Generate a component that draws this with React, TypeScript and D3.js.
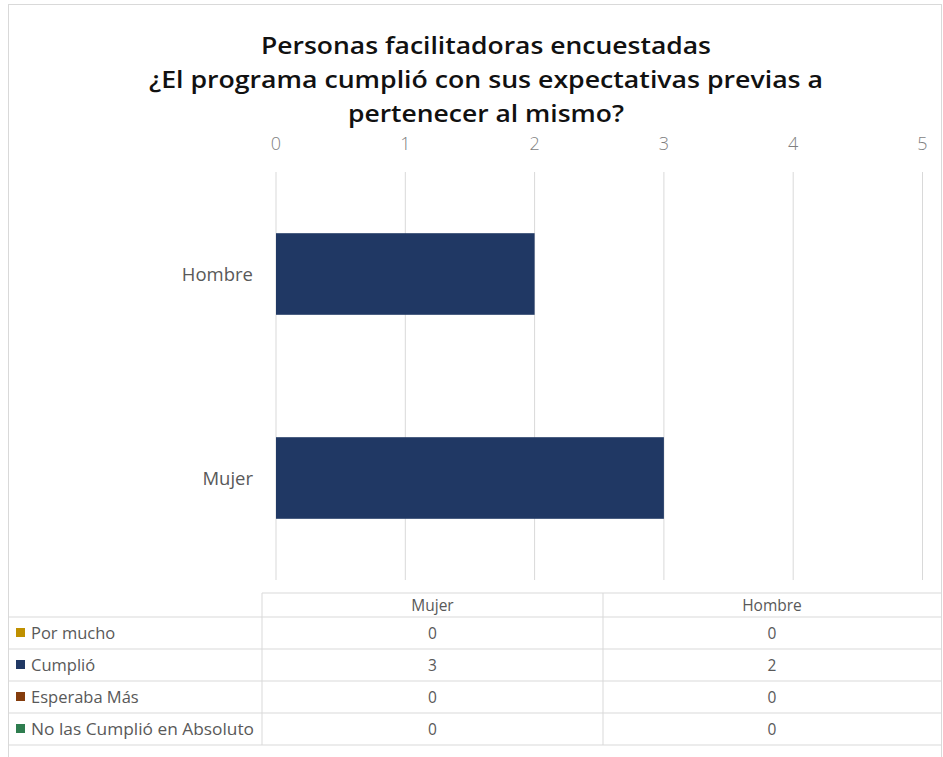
import React from "react";
import * as d3 from "d3";

const categories = ["Mujer", "Hombre"];
const seriesNames = ["Por mucho", "Cumplió", "Esperaba Más", "No las Cumplió en Absoluto"];
const seriesColors = ["#bf9000", "#203864", "#843c0c", "#2e7d4f"];
const porMucho = [0, 0];
const cumplio = [3, 2];
const esperabaMas = [0, 0];
const noCumplio = [0, 0];
const xTicks = [0, 1, 2, 3, 4, 5];
const titleLines = [
  "Personas facilitadoras encuestadas",
  "¿El programa cumplió con sus expectativas previas a",
  "pertenecer al mismo?",
];
const titleWidths = [450, 674, 276];

const W = 943;
const H = 757;
const FONT = "'Open Sans', 'Noto Sans', sans-serif";

export default function App() {
  const seriesValues = [porMucho, cumplio, esperabaMas, noCumplio];
  const rows = categories.map((c, i) => {
    const r: any = { cat: c };
    seriesNames.forEach((s, j) => (r[s] = seriesValues[j][i]));
    return r;
  });
  const stacked = d3.stack().keys(seriesNames)(rows);

  const x = d3.scaleLinear().domain([0, 5]).range([276, 922.5]);
  // Excel reverses the category order on horizontal bars
  const y = d3
    .scaleBand()
    .domain([...categories].reverse())
    .range([172, 580])
    .paddingInner(0.6)
    .paddingOuter(0.3);

  const tableTop = 593;
  const rowH = 32;
  const col0 = 8;
  const col1 = 262;
  const col2 = 603;
  const col3 = 941;
  const colCenters = [(col1 + col2) / 2, (col2 + col3) / 2];
  const lineColor = "#d9d9d9";
  const textColor = "#595959";

  return (
    <svg
      width={W}
      height={H}
      style={{ position: "absolute", left: 0, top: 0, background: "#fff" }}
      fontFamily={FONT}
    >
      <rect x={8.5} y={4.5} width={W - 10} height={H} fill="#fff" stroke="#d9d9d9" />

      {titleLines.map((t, i) => (
        <text
          key={i}
          x={486}
          y={54 + i * 34}
          textAnchor="middle"
          fontSize={24}
          fontWeight={600}
          fill="#111"
          textLength={titleWidths[i]}
          lengthAdjust="spacingAndGlyphs"
        >
          {t}
        </text>
      ))}

      {xTicks.map((t) => (
        <g key={t}>
          <line x1={x(t)} x2={x(t)} y1={172} y2={580} stroke={lineColor} strokeWidth={1} />
          <text
            x={x(t)}
            y={150}
            textAnchor="middle"
            fontSize={18}
            fill="#7f7f7f"
            fontWeight={300}
          >
            {t}
          </text>
        </g>
      ))}

      {stacked.map((s, si) =>
        s.map((d, di) =>
          d[1] - d[0] > 0 ? (
            <rect
              key={`${si}-${di}`}
              x={x(d[0])}
              y={y(categories[di])}
              width={x(d[1]) - x(d[0])}
              height={y.bandwidth()}
              fill={seriesColors[si]}
            />
          ) : null
        )
      )}

      {categories.map((c) => (
        <text
          key={c}
          x={253}
          y={(y(c) as number) + y.bandwidth() / 2 + 7}
          textAnchor="end"
          fontSize={18.5}
          fill="#595959"
        >
          {c}
        </text>
      ))}

      {/* data table */}
      <g>
        <line x1={col1} x2={col3} y1={tableTop} y2={tableTop} stroke={lineColor} />
        {seriesNames.map((_, i) => (
          <line
            key={i}
            x1={col0}
            x2={col3}
            y1={tableTop + 24 + i * rowH}
            y2={tableTop + 24 + i * rowH}
            stroke={lineColor}
          />
        ))}
        <line
          x1={col0}
          x2={col3}
          y1={tableTop + 24 + 4 * rowH}
          y2={tableTop + 24 + 4 * rowH}
          stroke={lineColor}
        />
        <line x1={col1} x2={col1} y1={tableTop} y2={tableTop + 24 + 4 * rowH} stroke={lineColor} />
        <line x1={col2} x2={col2} y1={tableTop} y2={tableTop + 24 + 4 * rowH} stroke={lineColor} />
        {categories.map((c, i) => (
          <text key={c} x={colCenters[i]} y={tableTop + 18} textAnchor="middle" fontSize={15.5} fill={textColor}>
            {c}
          </text>
        ))}
        {seriesNames.map((s, i) => {
          const cy = tableTop + 24 + i * rowH + rowH / 2;
          return (
            <g key={s}>
              <rect x={16} y={cy - 5} width={9} height={9} fill={seriesColors[i]} />
              <text x={31} y={cy + 6} fontSize={16.5} fill={textColor} textLength={s === seriesNames[3] ? 223 : undefined} lengthAdjust="spacingAndGlyphs">
                {s}
              </text>
              {seriesValues[i].map((v, j) => (
                <text key={j} x={colCenters[j]} y={cy + 6} textAnchor="middle" fontSize={15.5} fill={textColor}>
                  {v}
                </text>
              ))}
            </g>
          );
        })}
      </g>
    </svg>
  );
}
